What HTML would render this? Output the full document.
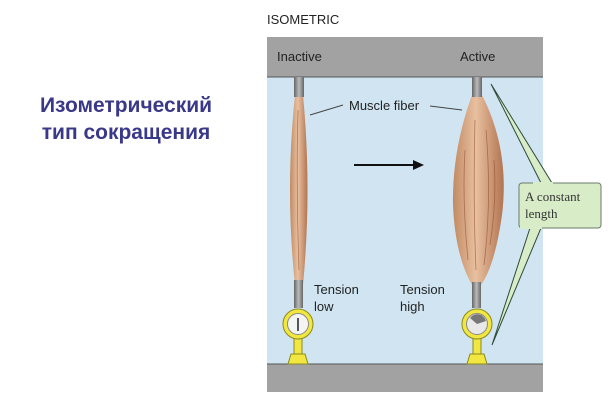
<!DOCTYPE html>
<html><head><meta charset="utf-8"><style>
body{margin:0;width:615px;height:420px;background:#fff;overflow:hidden;position:relative;font-family:"Liberation Sans",sans-serif}
.t{position:absolute;left:10px;width:232px;text-align:center;color:#3a3888;font-weight:bold;font-size:21px;line-height:27px;top:92px}
</style></head><body>
<div class="t">Изометрический<br>тип сокращения</div>
<svg width="615" height="420" style="position:absolute;left:0;top:0" font-family="Liberation Sans, sans-serif">
<defs>
<linearGradient id="m" x1="0" x2="1"><stop offset="0" stop-color="#c28a62"/><stop offset="0.45" stop-color="#e8c0a0"/><stop offset="1" stop-color="#b27450"/></linearGradient>
<linearGradient id="tn" x1="0" x2="1"><stop offset="0" stop-color="#666"/><stop offset="0.5" stop-color="#bbb"/><stop offset="1" stop-color="#666"/></linearGradient>
</defs>
<text x="267" y="24" font-size="13" fill="#222">ISOMETRIC</text>
<rect x="267" y="37" width="276" height="355" fill="#d0e5f1"/>
<rect x="267" y="37" width="276" height="40" fill="#a2a2a2"/>
<rect x="267" y="364" width="276" height="28" fill="#a2a2a2"/>
<line x1="267" y1="77" x2="543" y2="77" stroke="#555"/>
<line x1="267" y1="364" x2="543" y2="364" stroke="#555"/>
<text x="277" y="61" font-size="13" fill="#222">Inactive</text>
<text x="460" y="61" font-size="13" fill="#222">Active</text>
<path d="M294 77 L304 77 L303 95 Q312 190 303 285 L303 305 L294 305 L295 285 Q285 190 295 95 Z" fill="url(#m)"/>
<rect x="294" y="77" width="10" height="20" fill="url(#tn)"/>
<rect x="294" y="280" width="9" height="28" fill="url(#tn)"/>
<path d="M472 77 L482 77 L482 95 Q510 150 502 215 Q495 265 481 285 L481 305 L472 305 L472 285 Q455 255 453 205 Q452 150 472 95 Z" fill="url(#m)"/>
<rect x="472" y="77" width="10" height="20" fill="url(#tn)"/>
<rect x="472" y="282" width="9" height="26" fill="url(#tn)"/>
<g stroke="#8a4a28" stroke-width="0.8" fill="none" opacity="0.6">
<path d="M465 150 Q462 200 468 260"/><path d="M475 120 Q473 200 476 270"/><path d="M486 130 Q492 200 484 265"/><path d="M494 160 Q497 200 490 245"/>
<path d="M298 110 Q296 190 299 270"/>
</g>
<text x="349" y="110" font-size="13" fill="#222">Muscle fiber</text>
<line x1="310" y1="115" x2="343" y2="105" stroke="#444"/>
<line x1="430" y1="106" x2="462" y2="110" stroke="#444"/>
<line x1="354" y1="165" x2="415" y2="165" stroke="#111" stroke-width="2"/>
<path d="M413 160 L424 165 L413 170 Z" fill="#111"/>
<text x="314" y="294" font-size="13" fill="#222">Tension</text>
<text x="314" y="311" font-size="13" fill="#222">low</text>
<text x="400" y="294" font-size="13" fill="#222">Tension</text>
<text x="400" y="311" font-size="13" fill="#222">high</text>
<g stroke="#8a8a20">
<rect x="294" y="336" width="8" height="18" fill="#f2e640"/>
<path d="M291 354 L305 354 L308 364 L288 364 Z" fill="#f2e640"/>
<circle cx="298" cy="324" r="15" fill="#f2e640"/>
<circle cx="298" cy="324" r="10.5" fill="#f4f4f4" stroke="#888"/>
<rect x="473" y="336" width="8" height="18" fill="#f2e640"/>
<path d="M470 354 L484 354 L487 364 L467 364 Z" fill="#f2e640"/>
<circle cx="477" cy="324" r="15" fill="#f2e640"/>
<circle cx="477" cy="324" r="10.5" fill="#e8e8e8" stroke="#888"/>
</g>
<line x1="298" y1="318" x2="298" y2="331" stroke="#222" stroke-width="1.5"/>
<path d="M477 324 L470 318 A9 9 0 0 1 486 321 Z" fill="#777"/>
<path d="M491 84 L541 183 L552 183 Z M492 345 L530 228 L541 228 Z" fill="#d8ecc8" stroke="#2d4a3a"/>
<rect x="519" y="183" width="82" height="45" rx="3" fill="#d8ecc8" stroke="#6a7a6a"/>
<rect x="533" y="182" width="20" height="3" fill="#d8ecc8"/>
<rect x="520" y="226" width="22" height="3" fill="#d8ecc8"/>
<text x="525" y="201" font-size="13" font-family="Liberation Serif, serif" fill="#333">A constant</text>
<text x="525" y="218" font-size="13" font-family="Liberation Serif, serif" fill="#333">length</text>
</svg>
</body></html>
